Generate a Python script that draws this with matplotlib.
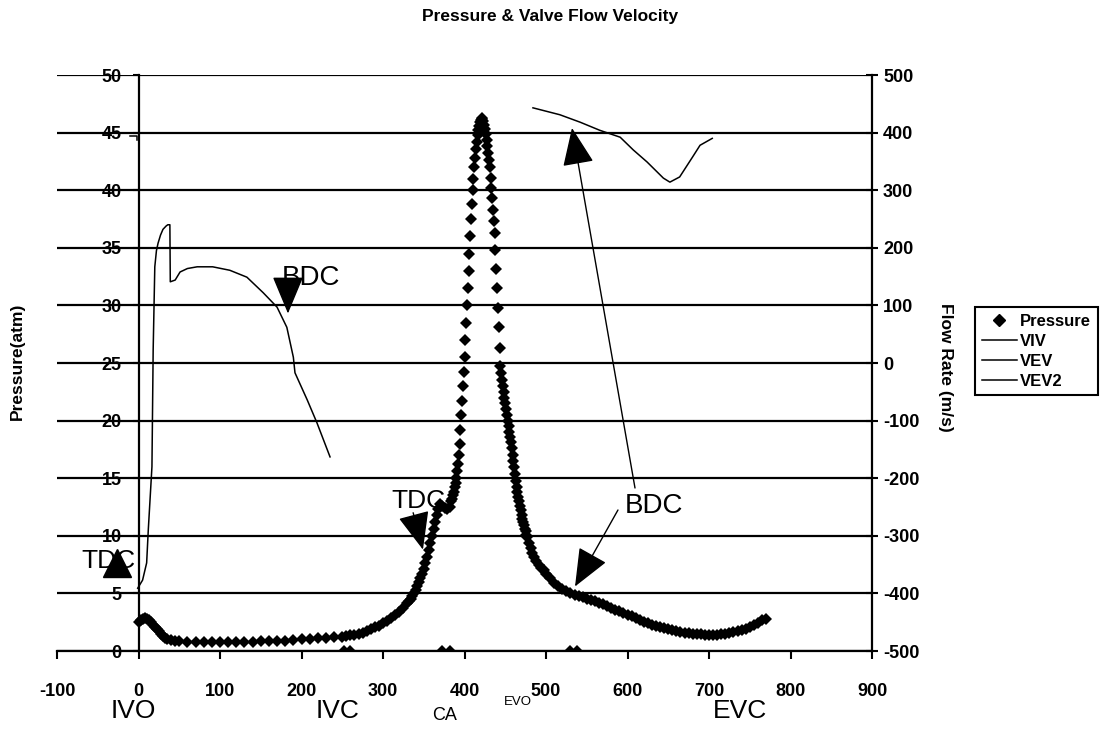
import matplotlib.pyplot as plt
from matplotlib.lines import Line2D

# crank angle (deg) / cylinder pressure (atm)
ca_pressure = [0, 2.5, 5, 7.5, 10, 12.5, 15, 17.5, 20, 22.5, 25, 27.5, 30, 32.5, 35, 40, 45, 50,
               60, 70, 80, 90, 100, 110, 120, 130, 140, 150, 160, 170, 180, 190, 200, 210, 220,
               230, 240, 250, 255, 260, 265, 270, 275, 280, 285, 290, 295, 300, 305, 310, 315,
               320, 325, 330, 332, 334, 336, 338, 340, 342, 344, 346, 348, 350, 352, 354, 356,
               358, 360, 362, 364, 366, 368, 370,
               373, 376, 379, 382, 384, 385, 386, 387, 388, 389, 390, 391, 392, 393, 394, 395,
               396, 397, 398, 399, 400, 401, 402, 403, 404, 405, 406, 407, 408, 409, 410, 411,
               412, 413, 414, 415, 416, 417, 418, 419, 420, 421,
               422, 423, 424, 425, 426, 427, 428, 429, 430, 431, 432, 433, 434, 435, 436, 437,
               438, 439, 440, 441, 442, 443, 444, 445, 446, 447, 448, 449, 450, 451, 452, 453,
               454, 455, 456, 457, 458, 459, 460, 461, 462, 463, 464, 465, 466, 467, 468, 469,
               470, 471, 472, 473, 474, 475, 476, 477, 479, 481, 483, 485, 488, 491, 494, 497,
               500, 505, 510, 515, 520, 525, 530, 535,
               540, 545, 550, 555, 560, 565, 570, 575, 580, 585, 590, 595, 600, 605, 610, 615,
               620, 625, 630, 635, 640, 645, 650, 655, 660, 665, 670, 675, 680, 685, 690, 695,
               700, 705, 710, 715, 720, 725, 730, 735, 740, 745, 750, 755, 760, 765, 770]
pressure = [2.5, 2.7, 2.8, 2.85, 2.8, 2.65, 2.5, 2.3, 2.1, 1.9, 1.7, 1.5, 1.3, 1.15, 1.05, 0.95,
            0.9, 0.85, 0.8, 0.75, 0.75, 0.75, 0.75, 0.75, 0.75, 0.8, 0.8, 0.85, 0.85, 0.9, 0.9,
            0.95, 1.0, 1.05, 1.1, 1.15, 1.2, 1.25, 1.3, 1.35, 1.4, 1.5, 1.6, 1.75, 1.9, 2.05,
            2.2, 2.4, 2.6, 2.85, 3.1, 3.4, 3.75, 4.15, 4.35, 4.55, 4.8, 5.0, 5.3, 5.6, 5.95,
            6.3, 6.7, 7.1, 7.6, 8.2, 8.8, 9.4, 10.0, 10.6, 11.2, 11.8, 12.3, 12.8,
            12.6, 12.4, 12.3, 12.5, 13.0, 13.2, 13.5, 13.8, 14.2, 14.6, 15.0, 15.6, 16.2, 17.0,
            18.0, 19.2, 20.5, 21.7, 23.0, 24.2, 25.5, 27.0, 28.5, 30.0, 31.5, 33.0, 34.5, 36.0,
            37.5, 38.8, 40.0, 41.0, 42.0, 42.8, 43.6, 44.2, 44.8, 45.2, 45.6, 45.9, 46.1, 46.3,
            46.2, 46.0, 45.7, 45.3, 44.9, 44.4, 43.8, 43.2, 42.6, 42.0, 41.1, 40.2, 39.3, 38.3,
            37.3, 36.3, 34.8, 33.2, 31.5, 29.8, 28.1, 26.3, 24.7, 24.1, 23.5, 23.0, 22.5, 22.0,
            21.5, 21.0, 20.5, 20.0, 19.5, 19.0, 18.6, 18.1, 17.6, 17.0, 16.5, 16.0, 15.4, 14.8,
            14.2, 13.8, 13.4, 13.0, 12.6, 12.2, 11.8, 11.5, 11.2, 10.9, 10.6, 10.4, 10.1, 9.9,
            9.4, 8.9, 8.5, 8.2, 7.8, 7.5, 7.2, 7.0, 6.7, 6.3, 5.9, 5.6, 5.4, 5.2, 5.05, 4.9,
            4.8, 4.65, 4.5, 4.4, 4.3, 4.2, 4.05, 3.9, 3.75, 3.6, 3.45, 3.3, 3.15, 3.0, 2.85, 2.7,
            2.55, 2.4, 2.3, 2.2, 2.1, 2.0, 1.9, 1.8, 1.7, 1.65, 1.6, 1.55, 1.5, 1.45, 1.45, 1.4,
            1.4, 1.4, 1.4, 1.45, 1.5, 1.55, 1.65, 1.75, 1.85, 1.95, 2.1, 2.25, 2.45, 2.65, 2.8]
# stray zero readings in the pressure series
ca_zero = [252, 260, 372, 382, 530, 538]
p_zero = [0, 0, 0, 0, 0, 0]

# intake valve flow velocity (m/s)
ca_viv = [-1, 5, 10, 12, 16.5, 18, 20, 22, 24, 27, 30, 34, 36, 38.5, 39, 45, 51, 60, 72, 91,
          112, 133, 153, 170, 182, 190, 192, 207, 219, 235]
viv = [-391, -377, -347, -290, -180, 23, 167, 195, 208, 222, 232, 238, 240, 240, 141, 144, 158,
       164, 167, 167, 161, 149, 122, 97, 62, 10, -17, -64, -104, -163]

# exhaust valve flow velocity (m/s)
ca_vev = [484, 517, 542, 566, 591, 607, 624, 644, 652, 664, 680, 689, 704]
vev = [443, 431, 418, 404, 392, 370, 349, 321, 314, 323, 358, 378, 390]

ca_vev2 = [-11, -2, -2]
vev2 = [394, 394, 387]

x_ticks = list(range(-100, 1000, 100))
p_ticks = list(range(0, 55, 5))
flow_ticks = list(range(-500, 600, 100))

W, H = 1108, 731
plt.rcParams['font.family'] = ['Liberation Sans', 'DejaVu Sans']
plt.rcParams['axes.unicode_minus'] = False

fig = plt.figure(figsize=(W / 100, H / 100), dpi=100)
ax = fig.add_axes([57 / W, 80 / H, 815 / W, 576 / H])
ax2 = ax.twinx()

ax.plot(ca_pressure + ca_zero, pressure + p_zero, 'D', color='black', ms=6.5, mew=0, zorder=3)
ax2.plot(ca_viv, viv, color='black', lw=1.1)
ax2.plot(ca_vev, vev, color='black', lw=1.1)
ax2.plot(ca_vev2, vev2, color='black', lw=1.1)

ax.set_xlim(-100, 900)
ax.set_ylim(0, 50)
ax2.set_ylim(-500, 500)
ax.set_xticks(x_ticks)
ax.set_yticks(p_ticks)
ax2.set_yticks(flow_ticks)

ax.yaxis.grid(True, color='black', lw=1.6)
ax.set_axisbelow(True)
ax.spines['left'].set_position(('data', 0))
for s in ['top', 'right']:
    ax.spines[s].set_visible(False)
for s in ['top', 'left', 'bottom']:
    ax2.spines[s].set_visible(False)
ax.spines['left'].set_linewidth(1.6)
ax.spines['bottom'].set_linewidth(1.6)
ax2.spines['right'].set_linewidth(1.6)

ax.tick_params(axis='x', direction='out', length=6, width=1.5, pad=17, labelsize=13)
ax.tick_params(axis='y', direction='out', length=4, width=1.5, pad=8, labelsize=13)
ax2.tick_params(axis='y', direction='inout', length=8, width=1.5, pad=4, labelsize=13)
for lab in ax.get_xticklabels() + ax.get_yticklabels() + ax2.get_yticklabels():
    lab.set_fontweight('bold')

fig.text(550 / W, 1 - 17 / H, 'Pressure & Valve Flow Velocity', ha='center', va='center',
         fontsize=12.5, fontweight='bold')
fig.text(17 / W, 1 - 361 / H, 'Pressure(atm)', rotation=90, ha='center', va='center',
         fontsize=12.5, fontweight='bold')
fig.text(945 / W, 1 - 367 / H, 'Flow Rate (m/s)', rotation=270, ha='center', va='center',
         fontsize=12.5, fontweight='bold')

fig.text(133 / W, 1 - 711 / H, 'IVO', ha='center', va='center', fontsize=19)
fig.text(338 / W, 1 - 711 / H, 'IVC', ha='center', va='center', fontsize=19)
fig.text(445 / W, 1 - 715 / H, 'CA', ha='center', va='center', fontsize=13)
fig.text(518 / W, 1 - 702 / H, 'EVO', ha='center', va='center', fontsize=9.5)
fig.text(740 / W, 1 - 711 / H, 'EVC', ha='center', va='center', fontsize=19)

# TDC / BDC markers
head = dict(arrowstyle='-|>,head_length=1.2,head_width=0.5', mutation_scale=20,
            color='black', lw=1.0, shrinkA=0, shrinkB=0)
ax.text(-37, 7.8, 'TDC', fontsize=19, ha='center', va='center')
ax.plot(-26, 7.6, '^', ms=20, color='black')
ax.text(211.7, 32.4, 'BDC', fontsize=20, ha='center', va='center')
ax.annotate('', xy=(183.4, 29.3), xytext=(183.4, 32.1), arrowprops=head, annotation_clip=False)
ax.text(343, 13.0, 'TDC', fontsize=19, ha='center', va='center')
ax.annotate('', xy=(349, 8.8), xytext=(337, 12.0), arrowprops=head, annotation_clip=False)
ax.text(632.5, 12.6, 'BDC', fontsize=20, ha='center', va='center')
ax.annotate('', xy=(531.9, 45.4), xytext=(609.2, 14.15), arrowprops=head, annotation_clip=False)
ax.annotate('', xy=(535.6, 5.6), xytext=(588.3, 12.24), arrowprops=head, annotation_clip=False)

handles = [Line2D([], [], marker='D', ls='none', color='black', ms=6, label='Pressure'),
           Line2D([], [], color='black', lw=1.1, label='VIV'),
           Line2D([], [], color='black', lw=1.1, label='VEV'),
           Line2D([], [], color='black', lw=1.1, label='VEV2')]
leg = fig.legend(handles=handles, loc='upper left', bbox_to_anchor=(975 / W, 1 - 307 / H),
                 frameon=True, fancybox=False, edgecolor='black', framealpha=1,
                 prop={'size': 12, 'weight': 'bold'}, handlelength=2.1, handletextpad=0.2,
                 borderpad=0.4, labelspacing=0.3, borderaxespad=0)
leg.get_frame().set_linewidth(1.5)

fig.savefig('out.png', dpi=100)
